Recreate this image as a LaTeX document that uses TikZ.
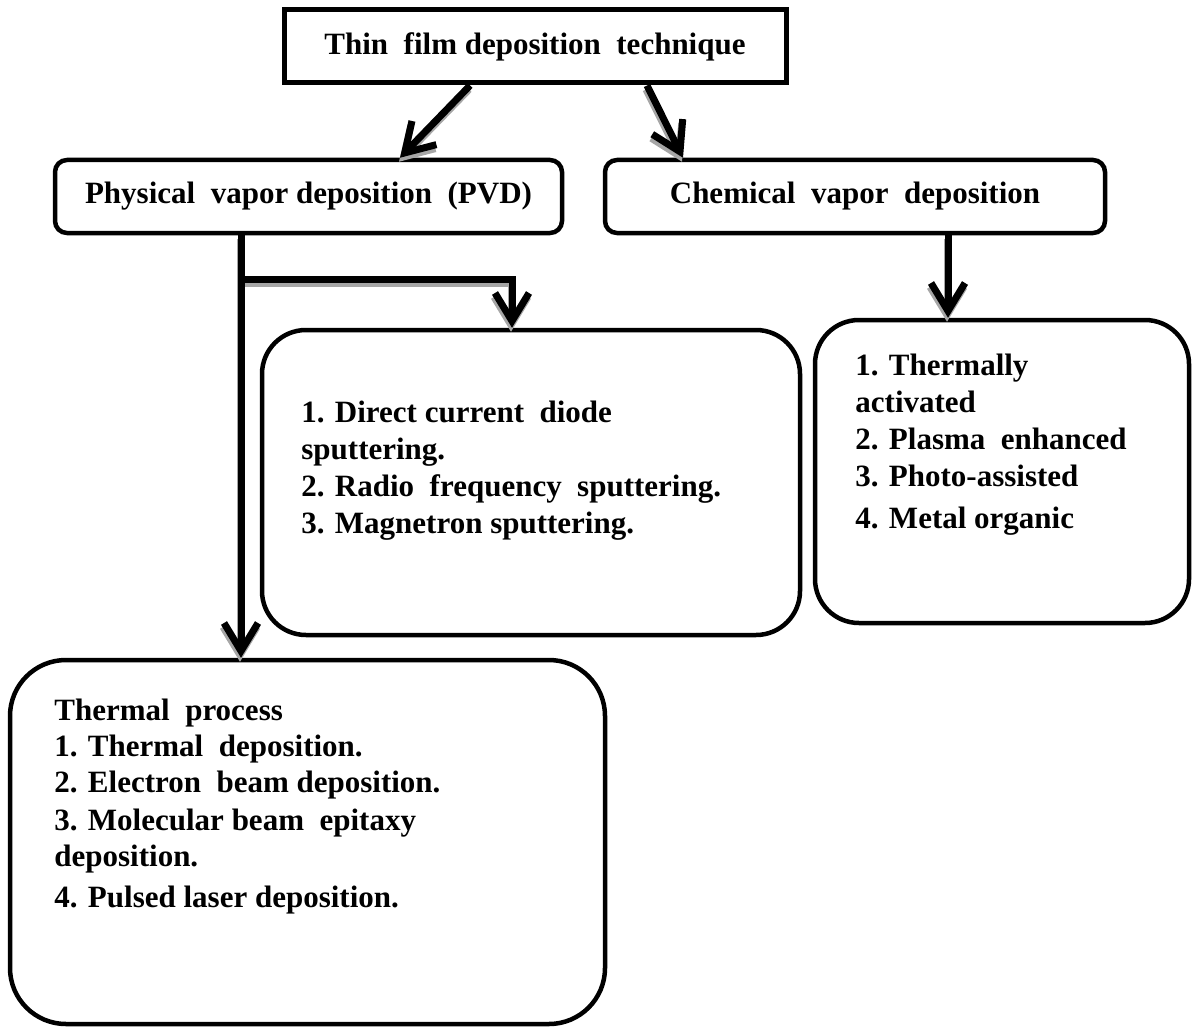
\documentclass[tikz,border=0pt]{standalone}
\usepackage{fontspec}
\setmainfont{Liberation Serif}
\usetikzlibrary{arrows.meta}
\begin{document}
\begin{tikzpicture}[x=0.5pt,y=-0.5pt,
  lbl/.style={font=\bfseries\fontsize{15.5}{18.5}\selectfont, inner sep=0pt},
  txt/.style={lbl, anchor=base west},
  boxa/.style={draw, line width=2.25pt, inner sep=0pt, lbl},
  conn/.style={line width=3.5pt, -{Straight Barb[length=14pt,width=17pt,line width=3.5pt]}},
  shad/.style={conn, draw=black!35},
  plain/.style={line width=3.5pt},
  plainshad/.style={plain, draw=black!35}
]
\useasboundingbox (0,0) rectangle (1192,1027);

% boxes
\node[boxa, line width=2.5pt, minimum width=251pt, minimum height=36.5pt] (top) at (535,46.5) {Thin\ \ film deposition\ \ technique};
\node[boxa, rounded corners=6pt, minimum width=253.5pt, minimum height=36.5pt] (pvd) at (308.5,196.5) {Physical\ \ vapor deposition\ \ (PVD)};
\node[boxa, rounded corners=6pt, minimum width=250pt, minimum height=36.5pt] (cvd) at (855,196.5) {Chemical\ \ vapor\ \ deposition};
\node[boxa, rounded corners=22pt, minimum width=269pt, minimum height=152.5pt] (sp) at (531,482.5) {};
\node[boxa, rounded corners=22pt, minimum width=187pt, minimum height=151.5pt] (cl) at (1002,471.5) {};
\node[boxa, rounded corners=28pt, minimum width=297.5pt, minimum height=182pt] (bt) at (307.5,842) {};

% sputtering text
\node[txt] (sp1) at (301,422) {1. Direct current\ \ diode};
\node[txt] (sp2) at (301,459) {sputtering.};
\node[txt] (sp3) at (301,496) {2. Radio\ \ frequency\ \ sputtering.};
\node[txt] (sp4) at (301,533) {3. Magnetron sputtering.};

% CVD list text
\node[txt] (cl1) at (855,375) {1. Thermally};
\node[txt] (cl2) at (855,412) {activated};
\node[txt] (cl3) at (855,449) {2. Plasma\ \ enhanced};
\node[txt] (cl4) at (855,486) {3. Photo-assisted};
\node[txt] (cl5) at (855,528) {4. Metal organic};

% thermal process text
\node[txt] (bt0) at (54,720) {Thermal\ \ process};
\node[txt] (bt1) at (54,756) {1. Thermal\ \ deposition.};
\node[txt] (bt2) at (54,792) {2. Electron\ \ beam deposition.};
\node[txt] (bt3) at (54,830) {3. Molecular beam\ \ epitaxy};
\node[txt] (bt4) at (54,866) {deposition.};
\node[txt] (bt5) at (54,907) {4. Pulsed laser deposition.};

\coordinate (br) at ([xshift=-33.75pt,yshift=-22pt]pvd.south);

\newcommand\myconns[2]{%
  \draw[#1] ([xshift=-32.5pt]top.south) -- ([xshift=45.75pt]pvd.north);
  \draw[#1] ([xshift=56pt]top.south) -- ([xshift=-86pt]cvd.north);
  \draw[#1] ([xshift=-33.75pt]pvd.south) -- ([xshift=-33.25pt]bt.north);
  \draw[#2] (br) -| ([xshift=-9.5pt,yshift=10pt]sp.north);
  \draw[#1] ([xshift=-9.5pt,yshift=12pt]sp.north) -- ([xshift=-9.5pt]sp.north);
  \draw[#1] ([xshift=46.5pt]cvd.south) -- ([xshift=-27pt]cl.north);
}
% shadows
\begin{scope}[transform canvas={shift={(-0.5pt,-2pt)}}]
  \myconns{shad}{plainshad}
\end{scope}
% connectors
\myconns{conn}{plain}
\end{tikzpicture}
\end{document}
